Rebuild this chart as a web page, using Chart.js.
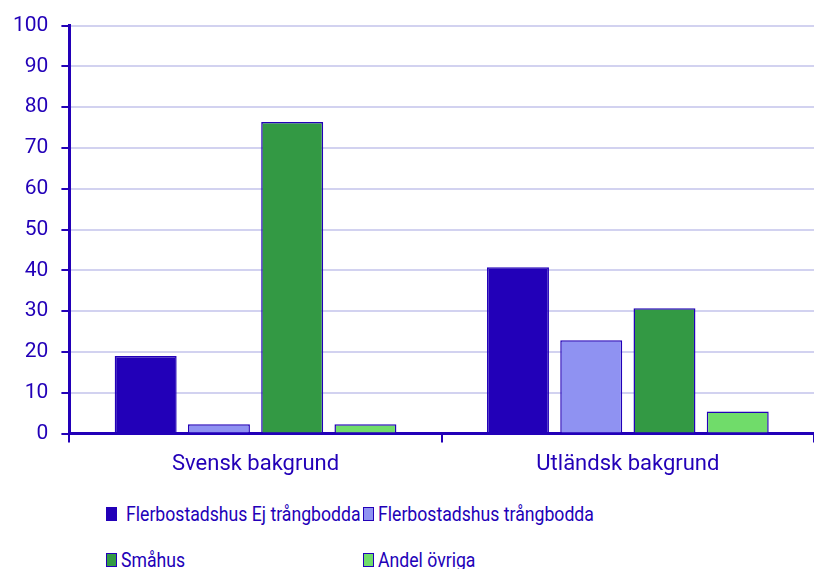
<!DOCTYPE html>
<html>
<head>
<meta charset="utf-8">
<script src="https://cdn.jsdelivr.net/npm/chart.js@4"></script>
<style>
  body { margin: 0; background: #fff; font-family: Roboto, sans-serif; }
  #wrap { position: relative; width: 814px; height: 569px; overflow: hidden; }
  #box { position: absolute; left: 0; top: 0; width: 814px; height: 487px; }
  #legenda { position: absolute; left: 106px; top: 504px; display: grid;
    grid-template-columns: 257px 300px; grid-auto-rows: 46px; color: #2200b8; font-size: 21px; line-height: 21px; }
  .item { display: flex; align-items: flex-start; height: 21px; white-space: nowrap; }
  .marca { flex-shrink: 0; width: 9px; height: 12px; border: 1px solid #2200b8; margin-top: 3px; margin-right: 4px; }
  .texto { display: inline-block; transform: scaleX(0.84); transform-origin: left center; }
</style>
</head>
<body>
<div id="wrap">
  <div id="box"><canvas id="grafico"></canvas></div>
  <div id="legenda"></div>
</div>
<script>
// Dados do gráfico
const categorias = ["Svensk bakgrund", "Utländsk bakgrund"];
const series = ["Flerbostadshus Ej trångbodda", "Flerbostadshus trångbodda", "Småhus", "Andel övriga"];
const ejTrangbodda = [19.0, 40.8];
const trangbodda = [2.3, 22.9];
const smahus = [76.4, 30.7];
const ovriga = [2.3, 5.4];
const ticksY = [0, 10, 20, 30, 40, 50, 60, 70, 80, 90, 100];

const cores = ["#2200b8", "#8f92f2", "#339944", "#70dc6a"];
const azul = "#2200b8";
const valores = [ejTrangbodda, trangbodda, smahus, ovriga];

const ctx = document.getElementById("grafico");
const grafico = new Chart(ctx, {
    type: "bar",
    data: {
        labels: categorias,
        datasets: series.map((nome, i) => ({
            label: nome,
            data: valores[i],
            backgroundColor: cores[i],
            borderColor: azul,
            borderWidth: 1.5,
            barPercentage: 0.846,
            categoryPercentage: 0.787
        }))
    },
    options: {
        responsive: true,
        maintainAspectRatio: false,
        animation: false,
        layout: { padding: { left: 0, top: 8, right: 0, bottom: 0 } },
        plugins: { legend: { display: false }, tooltip: { enabled: false } },
        scales: {
            x: {
                grid: { offset: true, drawOnChartArea: false, color: azul, tickLength: 9, lineWidth: 2 },
                border: { color: azul, width: 3 },
                ticks: { color: azul, font: { family: "Roboto", size: 22 }, padding: 9 }
            },
            y: {
                min: 0,
                max: 100,
                afterBuildTicks: axis => { axis.ticks = ticksY.map(v => ({ value: v })); },
                grid: { color: "#d2d2f0", lineWidth: 2, tickColor: azul, tickLength: 8 },
                border: { color: azul, width: 3 },
                ticks: { color: azul, font: { family: "Roboto", size: 21 }, padding: 13 }
            }
        }
    }
});

// Legenda em HTML
const legenda = document.getElementById("legenda");
grafico.data.datasets.forEach((ds, i) => {
    const item = document.createElement("div");
    item.className = "item";
    item.innerHTML = `<span class="marca" style="background:${ds.backgroundColor}${i === 0 ? ';margin-right:9px' : ''}"></span><span class="texto">${ds.label}</span>`;
    legenda.appendChild(item);
});
</script>
</body>
</html>
